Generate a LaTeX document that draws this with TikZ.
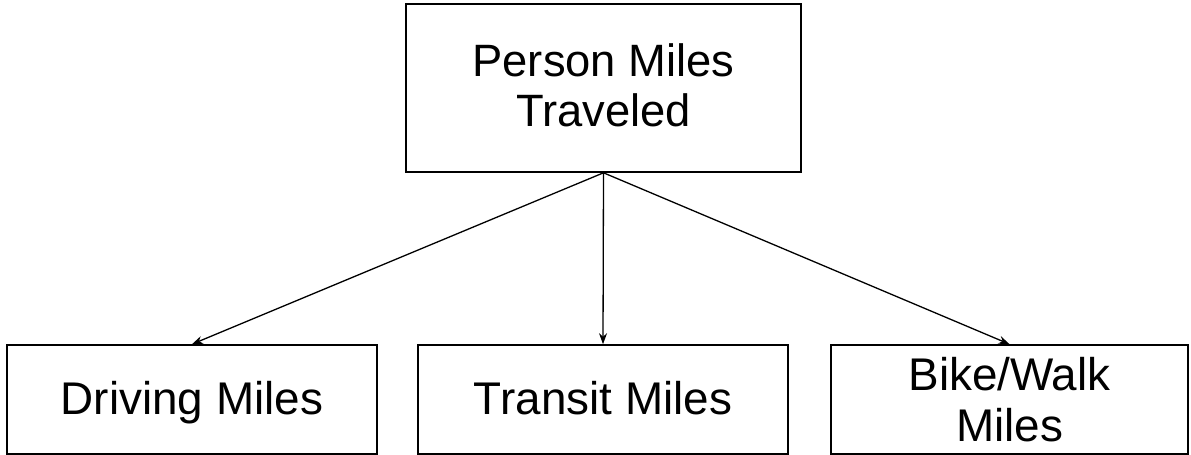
\documentclass[tikz,border=0pt]{standalone}
\usepackage{fontspec}
\setmainfont{Liberation Sans}
\usetikzlibrary{arrows.meta}
\begin{document}
\begin{tikzpicture}[x=1bp,y=-1bp,
  box/.style={draw=black,line width=1.6bp,inner sep=0pt,align=center,fill=white},
  topbox/.style={box,minimum width=395bp,minimum height=168bp},
  toptext/.style={inner sep=0pt,align=center,font=\fontsize{45.5}{50}\selectfont},
  lowbox/.style={box,minimum height=109bp,font=\fontsize{46}{51}\selectfont},
  oneline/.style={text height=33bp,text depth=2bp},
  conn/.style={line width=1.3bp,-{Stealth[length=11bp,width=8bp]}}]
\useasboundingbox (0,0) rectangle (1191,455);
\fill[white] (0,0) rectangle (1191,455);
\node[topbox] (pmt) at (603.5,88) {};
\node[toptext] (pmtt) at (603.5,85) {Person Miles\\Traveled};
\node[lowbox,oneline,minimum width=370bp] (drv) at (192,399.5) {Driving Miles};
\node[lowbox,oneline,minimum width=370bp] (trn) at (603,399.5) {Transit Miles};
\node[lowbox,minimum width=357bp] (bkw) at (1009.5,399.5) {Bike/Walk\\Miles};
\draw[conn] (pmt.south) -- (drv.north);
\draw[conn] (pmt.south) -- (trn.north);
\draw[conn] (pmt.south) -- (bkw.north);
\end{tikzpicture}
\end{document}
